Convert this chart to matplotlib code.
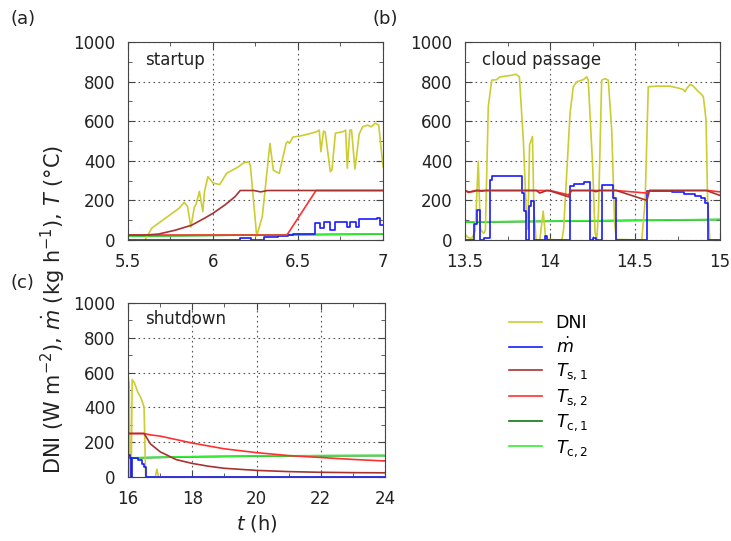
import matplotlib
matplotlib.use("Agg")
import matplotlib.pyplot as plt
from matplotlib.ticker import MultipleLocator, FormatStrFormatter

plt.rcParams["font.family"] = ["DejaVu Sans"]
plt.rcParams["mathtext.fontset"] = "dejavusans"

# ---- (a) startup ----
a_dni_t = [5.6, 5.64, 5.72, 5.80, 5.83, 5.85, 5.87, 5.89, 5.90, 5.92, 5.94, 5.95, 5.97,
           6.0, 6.04, 6.08, 6.15, 6.18, 6.21, 6.22, 6.257, 6.29, 6.335, 6.355, 6.37,
           6.39, 6.43, 6.44, 6.45, 6.47, 6.51, 6.56, 6.61, 6.625, 6.635, 6.65, 6.66,
           6.69, 6.70, 6.72, 6.765, 6.78, 6.79, 6.805, 6.815, 6.835, 6.86, 6.88, 6.91,
           6.93, 6.955, 6.975, 7.0]
a_dni = [0, 60, 110, 160, 190, 170, 65, 165, 180, 245, 143, 245, 320,
         288, 280, 337, 370, 390, 395, 375, 20, 118, 488, 353, 345,
         337, 488, 498, 488, 520, 525, 535, 547, 555, 446, 550, 545,
         345, 355, 540, 547, 555, 363, 555, 555, 358, 535, 572, 580,
         572, 590, 580, 370]
a_m_t = [5.5, 6.16, 6.225, 6.30, 6.38, 6.44, 6.47, 6.60, 6.63, 6.653, 6.688, 6.72,
         6.786, 6.806, 6.841, 6.861, 6.963, 6.982, 7.0]
a_m = [0, 12, 0, 15, 20, 25, 30, 88, 62, 90, 52, 92, 66, 93, 66, 104, 110, 76, 76]
a_ts1_t = [5.5, 5.6, 5.68, 5.78, 5.875, 5.95, 6.0, 6.07, 6.13, 6.16, 6.24, 6.28, 6.32, 7.0]
a_ts1 = [25, 25, 30, 50, 75, 110, 135, 177, 219, 250, 250, 243, 250, 250]
a_ts2_t = [5.5, 6.435, 6.606, 7.0]
a_ts2 = [25, 25, 250, 250]
a_tc_t = [5.5, 7.0]
a_tc1 = [20, 30]
a_tc2 = [20, 31]

# ---- (b) cloud passage ----
b_dni_t = [13.5, 13.52, 13.54, 13.56, 13.578, 13.59, 13.61, 13.62, 13.637, 13.657,
           13.686, 13.706, 13.775, 13.80, 13.82, 13.843, 13.86, 13.87, 13.88, 13.897,
           13.905, 13.918, 13.94, 13.96, 13.975, 14.07, 14.08, 14.118, 14.137, 14.157,
           14.196, 14.216, 14.225, 14.25, 14.265, 14.275, 14.285, 14.304, 14.324,
           14.343, 14.363, 14.38, 14.39, 14.54, 14.56, 14.578, 14.627, 14.706, 14.765,
           14.784, 14.794, 14.804, 14.824, 14.843, 14.873, 14.892, 14.902, 14.918,
           14.927, 14.94, 15.0]
b_dni = [28, 12, 7, 45, 397, 54, 33, 50, 673, 807,
         810, 824, 832, 837, 824, 506, 154, 54, 481, 523,
         154, 0, 0, 146, 3, 0, 54, 640, 774, 799,
         810, 824, 807, 389, 37, 3, 137, 807, 815,
         807, 556, 87, 3, 0, 204, 774, 777, 777, 765,
         760, 749, 765, 786, 777, 749, 735, 724, 606,
         204, 0, 0]
b_m_t = [13.5, 13.555, 13.573, 13.59, 13.61, 13.645, 13.66, 13.835, 13.848, 13.86,
         13.875, 13.89, 13.905, 13.97, 13.98, 14.12, 14.14, 14.20, 14.235, 14.25,
         14.27, 14.305, 14.37, 14.39, 14.57, 14.72, 14.79, 14.85, 14.89, 14.91, 14.93, 15.0]
b_m = [0, 79, 154, 0, 10, 305, 322, 238, 146, 0,
       171, 196, 0, 20, 0, 271, 285, 291, 0, 10,
       0, 280, 213, 0, 250, 241, 234, 224, 210, 188, 0, 0]
b_ts1_t = [13.5, 13.52, 13.55, 13.57, 13.6, 13.62, 13.92, 13.94, 13.96, 13.98, 14.0,
           14.11, 14.125, 14.25, 14.27, 14.29, 14.39, 14.57, 14.585, 14.92, 15.0]
b_ts1 = [250, 243, 245, 250, 247, 250, 250, 237, 243, 250, 248,
         218, 250, 250, 244, 250, 250, 200, 250, 250, 225]
b_ts2_t = [13.5, 13.52, 13.56, 14.0, 14.11, 14.125, 14.39, 14.57, 14.585, 14.93, 15.0]
b_ts2 = [250, 240, 250, 250, 228, 250, 250, 237, 250, 250, 243]
b_tc_t = [13.5, 15.0]
b_tc1 = [90, 103]
b_tc2 = [91, 104]

# ---- (c) shutdown ----
c_dni_t = [16.0, 16.04, 16.06, 16.1, 16.13, 16.2, 16.3, 16.4, 16.45, 16.5, 16.55,
           16.85, 16.9, 16.95, 24.0]
c_dni = [585, 530, 0, 0, 560, 540, 490, 455, 430, 400, 0, 0, 45, 0, 0]
c_m_t = [16.0, 16.05, 16.08, 16.13, 16.3, 16.45, 16.5, 16.56, 24.0]
c_m = [125, 110, 0, 110, 100, 75, 60, 0, 0]
c_ts1_t = [16.0, 16.5, 16.7, 17.0, 17.5, 18.0, 18.5, 19.0, 20.0, 21.0, 22.0, 23.0, 24.0]
c_ts1 = [250, 250, 190, 145, 100, 78, 62, 50, 38, 31, 27, 25, 24]
c_ts2_t = [16.0, 16.5, 16.7, 17.0, 17.5, 18.0, 19.0, 20.0, 21.0, 22.0, 23.0, 24.0]
c_ts2 = [250, 250, 242, 235, 215, 195, 162, 140, 123, 112, 101, 92]
c_tc_t = [16.0, 18.0, 20.0, 22.0, 24.0]
c_tc1 = [109, 116, 120, 122, 123]
c_tc2 = [110, 117, 121, 123, 124]

labels = ["DNI", r"$\dot{m}$", r"$T_{\mathrm{s,1}}$", r"$T_{\mathrm{s,2}}$",
          r"$T_{\mathrm{c,1}}$", r"$T_{\mathrm{c,2}}$"]
colors = ["#cccc33", "#1a1aff", "#a83232", "#ff3030", "#117711", "#33ee33"]

fig = plt.figure(figsize=(7.31, 5.41), dpi=100)
ax_a = fig.add_axes([128 / 731, 1 - 240 / 541, 255 / 731, 198 / 541])
ax_b = fig.add_axes([465 / 731, 1 - 240 / 541, 255 / 731, 198 / 541])
ax_c = fig.add_axes([128 / 731, 1 - 477 / 541, 257 / 731, 174 / 541])


def draw(ax, dni, m, ts1, ts2, tc1, tc2):
    lw = 1.2
    ax.plot(*tc1, color=colors[4], lw=lw)
    ax.plot(*tc2, color=colors[5], lw=lw)
    ax.plot(*dni, color=colors[0], lw=lw)
    ax.plot(*m, color=colors[1], lw=lw, drawstyle="steps-post")
    ax.plot(*ts2, color=colors[3], lw=lw)
    ax.plot(*ts1, color=colors[2], lw=lw)


def style(ax, xlim, major, minor, title):
    ax.set_xlim(*xlim)
    ax.set_ylim(0, 1000)
    ax.xaxis.set_major_locator(MultipleLocator(major))
    ax.xaxis.set_minor_locator(MultipleLocator(minor))
    ax.xaxis.set_major_formatter(FormatStrFormatter("%g"))
    ax.yaxis.set_major_locator(MultipleLocator(200))
    ax.yaxis.set_minor_locator(MultipleLocator(100))
    ax.tick_params(which="both", direction="in", top=True, right=True,
                   labelsize=12, colors="#444444", labelcolor="#222222", pad=9)
    ax.tick_params(which="major", length=5)
    ax.tick_params(which="minor", length=3)
    ax.grid(True, which="major", color="#555555", linestyle=(0, (1.5, 3)), lw=0.8)
    for s in ax.spines.values():
        s.set_color("#444444")
    ax.text(0.067, 0.91, title, transform=ax.transAxes, fontsize=12,
            va="center", ha="left", color="#222222")


draw(ax_a, (a_dni_t, a_dni), (a_m_t, a_m), (a_ts1_t, a_ts1), (a_ts2_t, a_ts2),
     (a_tc_t, a_tc1), (a_tc_t, a_tc2))
draw(ax_b, (b_dni_t, b_dni), (b_m_t, b_m), (b_ts1_t, b_ts1), (b_ts2_t, b_ts2),
     (b_tc_t, b_tc1), (b_tc_t, b_tc2))
draw(ax_c, (c_dni_t, c_dni), (c_m_t, c_m), (c_ts1_t, c_ts1), (c_ts2_t, c_ts2),
     (c_tc_t, c_tc1), (c_tc_t, c_tc2))

style(ax_a, (5.5, 7), 0.5, 0.25, "startup")
style(ax_b, (13.5, 15), 0.5, 0.25, "cloud passage")
style(ax_c, (16, 24), 2, 1, "shutdown")
ax_c.set_xlabel(r"$t$ (h)", fontsize=14, color="#222222", labelpad=4)

fig.text(10 / 731, 1 - 19 / 541, "(a)", fontsize=13, color="#222222", va="center")
fig.text(372 / 731, 1 - 19 / 541, "(b)", fontsize=13, color="#222222", va="center")
fig.text(11 / 731, 1 - 283 / 541, "(c)", fontsize=13, color="#222222", va="center")
fig.text(53 / 731, 1 - 310 / 541,
         r"DNI (W m$^{-2}$), $\dot{m}$ (kg h$^{-1}$), $T$ (°C)",
         rotation=90, fontsize=15, color="#222222", ha="center", va="center")

handles = [plt.Line2D([], [], color=c, lw=1.2) for c in colors]
fig.legend(handles, labels, loc="upper left", bbox_to_anchor=(493 / 731, 1 - 298 / 541),
           frameon=False, fontsize=12.5, handlelength=1.9, handletextpad=0.8,
           labelspacing=0.28)

fig.savefig("out.png", dpi=100)
